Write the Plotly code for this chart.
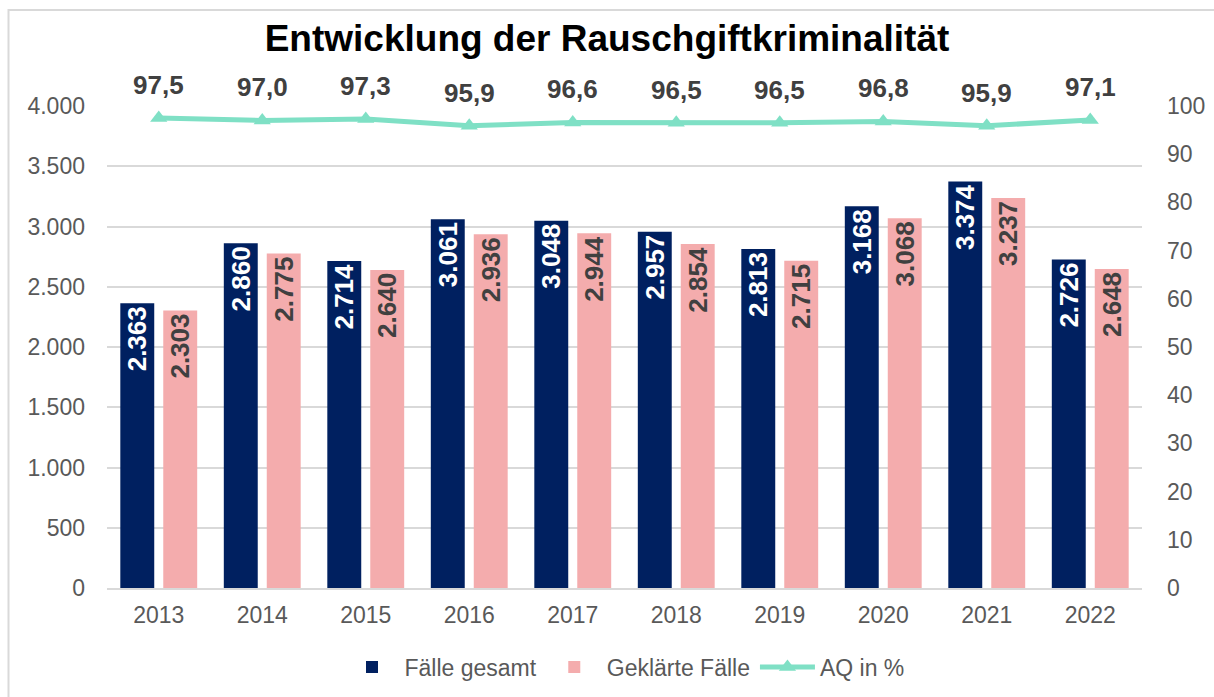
import plotly.graph_objects as go

years = ["2013", "2014", "2015", "2016", "2017", "2018", "2019", "2020", "2021", "2022"]
faelle_gesamt = [2363, 2860, 2714, 3061, 3048, 2957, 2813, 3168, 3374, 2726]
geklaerte_faelle = [2303, 2775, 2640, 2936, 2944, 2854, 2715, 3068, 3237, 2648]
aq_prozent = [97.5, 97.0, 97.3, 95.9, 96.6, 96.5, 96.5, 96.8, 95.9, 97.1]

NAVY = "#002060"
PINK = "#F4ACAD"
TEAL = "#7FE0C5"
FONT = "Liberation Sans, Arial, sans-serif"
TICK = "#595959"

L, R, T, B = 107, 72, 106, 109
W, H = 1214, 697
PW, PH = W - L - R, H - T - B

fig = go.Figure()
fig.add_trace(go.Bar(
    x=years, y=faelle_gesamt, name="Fälle gesamt",
    marker=dict(color=NAVY, line=dict(width=0)),
    texttemplate="%{y:,.0f}", textposition="inside", insidetextanchor="end",
    textangle=-90, constraintext="none",
    insidetextfont=dict(family=FONT, size=26, color="white", weight="bold"),
))
fig.add_trace(go.Bar(
    x=years, y=geklaerte_faelle, name="Geklärte Fälle",
    marker=dict(color=PINK, line=dict(width=0)),
    texttemplate="%{y:,.0f}", textposition="inside", insidetextanchor="end",
    textangle=-90, constraintext="none",
    insidetextfont=dict(family=FONT, size=26, color="#404040", weight="bold"),
))
fig.add_trace(go.Scatter(
    x=years, y=aq_prozent, name="AQ in %", yaxis="y2",
    mode="lines+markers",
    line=dict(color=TEAL, width=5),
    marker=dict(symbol="triangle-up", size=15, color=TEAL),
    cliponaxis=False,
))

# category axis: annotations positioned by category index
for i, v in enumerate(aq_prozent):
    fig.add_annotation(
        x=i, y=v, xref="x", yref="y2", text=f"{v:.1f}".replace(".", ","),
        showarrow=False, yshift=33,
        font=dict(family=FONT, size=26, color="#404040", weight="bold"),
    )

fig.update_layout(
    width=W, height=H,
    paper_bgcolor="white", plot_bgcolor="white",
    separators=",.",
    margin=dict(l=L, r=R, t=T, b=B, autoexpand=False),
    title=dict(text="<b>Entwicklung der Rauschgiftkriminalität</b>",
               x=0.5, xanchor="center", y=1 - 38 / H, yanchor="middle",
               font=dict(family=FONT, size=37, color="black")),
    barmode="group", bargap=0.17, bargroupgap=0.21,
    font=dict(family=FONT, size=23, color=TICK),
    xaxis=dict(type="category", range=[-0.5, len(years) - 0.5], showgrid=False,
               showline=True, linecolor="#D9D9D9", linewidth=1.5,
               ticks="", tickfont=dict(size=23, color=TICK), ticklabelstandoff=6),
    yaxis=dict(range=[0, 4000], dtick=500, tickformat=",", showgrid=True,
               gridcolor="#D9D9D9", gridwidth=1.5, zeroline=False, showline=False,
               ticks="", tickfont=dict(size=23, color=TICK), ticklabelstandoff=21),
    yaxis2=dict(range=[0, 100], dtick=10, overlaying="y", side="right",
                showgrid=False, zeroline=False, showline=False, ticks="",
                tickfont=dict(size=23, color=TICK), ticklabelstandoff=24),
    legend=dict(orientation="h", x=0.5, xanchor="center",
                y=-(667 - (H - B)) / PH, yanchor="middle",
                font=dict(family=FONT, size=23, color=TICK),
                itemwidth=55, traceorder="normal"),
    shapes=[dict(type="rect", xref="paper", yref="paper",
                 x0=(8.5 - L) / PW, x1=(W + 20 - L) / PW,
                 y0=-(H + 20 - (H - B)) / PH, y1=1 + (T - 10) / PH,
                 line=dict(color="#D9D9D9", width=2))],
)

fig.write_html("out.html", config={"displayModeBar": False},
               post_script="document.body.style.margin='0px';")
